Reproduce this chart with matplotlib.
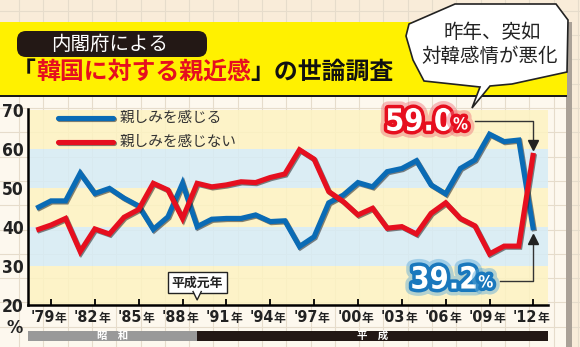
import numpy as np
import matplotlib
matplotlib.use('Agg')
from matplotlib import pyplot as plt
from matplotlib import patches
import matplotlib.patheffects as pe
import matplotlib.transforms as mtransforms

plt.rcParams['font.family'] = ['Noto Sans CJK JP', 'DejaVu Sans']
NARROW = dict(family='DejaVu Sans', fontstretch='condensed', fontweight='bold')

# --- data ---
years = list(range(1978, 2013))
kanjiru = [44.8, 46.7, 46.7, 53.8, 48.6, 49.9, 47.4, 45.4, 39.4, 42.6,
           51.2, 40.1, 42.0, 42.2, 42.2, 43.1, 41.4, 41.6, 35.0, 37.5,
           46.2, 48.2, 51.4, 50.3, 54.2, 55.0, 57.0, 50.8, 48.5, 55.0,
           57.2, 63.8, 61.9, 62.3, 39.2]
kanjinai = [39.2, 40.5, 42.2, 33.7, 39.5, 38.2, 42.5, 44.5, 51.2, 49.5,
            42.2, 51.2, 50.3, 50.8, 51.6, 51.4, 52.7, 53.6, 59.8, 57.4,
            49.1, 46.5, 43.1, 44.8, 39.7, 40.1, 38.2, 43.5, 46.2, 42.2,
            40.3, 33.1, 35.1, 35.1, 59.0]
series_names = ['親しみを感じる', '親しみを感じない']
tick_years = list(range(1979, 2013, 3))
tick_labels = ["'79", "'82", "'85", "'88", "'91", "'94", "'97", "'00", "'03", "'06", "'09", "'12"]
y_ticks = [20, 30, 40, 50, 60, 70]

BLUE = '#0a6bb5'
RED = '#e60f1f'

W, H = 580, 347
fig = plt.figure(figsize=(W / 100, H / 100), dpi=100)
fig.patch.set_facecolor('#f9ecd9')

# background: panel + graph paper (pixel coordinates)
bg = fig.add_axes([0, 0, 1, 1], zorder=0)
bg.set_xlim(0, W)
bg.set_ylim(H, 0)
bg.axis('off')
bg.add_patch(patches.Rectangle((0, 95), 567, 252, fc='#fdf8ee', ec='none'))
for gx in np.arange(19, W, 24.3):
    bg.axvline(gx, color='#e6dccb', lw=0.8, zorder=1)
for gy in np.arange(10.8, H, 24.3):
    bg.axhline(gy, color='#e6dccb', lw=0.8, zorder=1)
bg.add_patch(patches.Rectangle((566, 22), 6, 325, fc='#aaa197', ec='none', zorder=2))
bg.text(15, 328, '%', fontsize=13, ha='center', va='center', color='#222222', **NARROW)

# main chart
ax = fig.add_axes([28 / W, 1 - 305 / H, 520 / W, 196 / H], zorder=1)
ax.set_facecolor('none')
ax.set_xlim(1977.43, 2013.0)
ax.set_ylim(20, 70.26)
for lo in range(20, 70, 10):
    col = '#fdf3c2' if (lo // 10) % 2 == 0 else '#d6ecf6'
    ax.axhspan(lo, lo + 10, color=col, alpha=0.85, lw=0, zorder=0)

for sp in ['top', 'right']:
    ax.spines[sp].set_visible(False)
ax.spines['left'].set_linewidth(1.8)
ax.spines['bottom'].set_linewidth(1.8)
ax.set_xticks(tick_years)
ax.set_xticklabels([])
ax.tick_params(axis='x', direction='in', length=4, width=1.3)
ax.set_yticks(y_ticks)
ax.set_yticklabels([str(v) for v in y_ticks], fontsize=12.5, color='#222222', **NARROW)
ax.tick_params(axis='y', length=0, pad=3)

shadow = [pe.SimpleLineShadow(offset=(0.8, -0.8), shadow_color='#222222', alpha=0.55), pe.Normal()]
ax.plot(years, kanjiru, color=BLUE, lw=3.7, solid_joinstyle='miter',
        solid_capstyle='butt', path_effects=shadow, zorder=4)
ax.plot(years, kanjinai, color=RED, lw=3.7, solid_joinstyle='miter',
        solid_capstyle='butt', path_effects=shadow, zorder=5)

# legend
for i, (name, c) in enumerate(zip(series_names, [BLUE, RED])):
    yy = 0.954 - i * 0.121
    ax.plot([0.058, 0.163], [yy, yy], transform=ax.transAxes, color=c, lw=3.7,
            solid_capstyle='round', path_effects=shadow, clip_on=False, zorder=6)
    ax.text(0.177, yy, name, transform=ax.transAxes, fontsize=10.5,
            va='center', ha='left', color='#333333')

# x tick labels
trans = mtransforms.blended_transform_factory(ax.transData, ax.transAxes)
for yr, lab in zip(tick_years, tick_labels):
    ax.text(yr + 0.25, -0.066, lab, transform=trans, ha='right', va='center',
            fontsize=11.5, color='#222222', **NARROW)
    ax.text(yr + 0.25, -0.07, '年', transform=trans, ha='left', va='center',
            fontsize=8.5, fontweight='bold', color='#222222')

# era bars
x0, x1 = ax.get_xlim()
ax.add_patch(patches.Rectangle((x0, -0.184), 1989 - x0, 0.053, transform=trans,
                               fc='#999999', ec='none', clip_on=False))
ax.add_patch(patches.Rectangle((1989, -0.184), x1 - 1989, 0.053, transform=trans,
                               fc='#231815', ec='none', clip_on=False))
ax.text((x0 + 1989) / 2, -0.158, '昭　和', transform=trans, ha='center', va='center',
        fontsize=7.5, fontweight='bold', color='white')
ax.text((1989 + x1) / 2, -0.158, '平　成', transform=trans, ha='center', va='center',
        fontsize=7.5, fontweight='bold', color='white')

# 平成元年 callout
ax.text(1989, 25.8, '平成元年', ha='center', va='center', fontsize=9.3,
        fontweight='bold', color='#222222', zorder=7,
        bbox=dict(boxstyle='square,pad=0.28', fc='white', ec='#222222', lw=1))
ax.add_patch(patches.Polygon([(1988.72, 23.6), (1989.28, 23.6), (1989, 21.3)],
                             closed=True, fc='white', ec='none', zorder=8))
ax.plot([1988.72, 1989, 1989.28], [23.45, 21.3, 23.45], color='#222222', lw=1, zorder=8)

# end value labels with arrows
glow_r = [pe.Stroke(linewidth=10, foreground='#f07078', alpha=0.45),
          pe.Stroke(linewidth=5, foreground=RED), pe.Normal()]
glow_b = [pe.Stroke(linewidth=10, foreground='#5aa8d8', alpha=0.45),
          pe.Stroke(linewidth=5, foreground='#1a78bd'), pe.Normal()]
ax.text(2006.47, 66.9, f'{kanjinai[-1]:.1f}', ha='right', va='center', fontsize=22,
        color='white', path_effects=glow_r, zorder=9, **NARROW)
ax.text(2006.5, 66.3, '%', ha='left', va='center', fontsize=12,
        color='white', path_effects=glow_r, zorder=9, **NARROW)
ax.text(2008.2, 26.4, f'{kanjiru[-1]:.1f}', ha='right', va='center', fontsize=22,
        color='white', path_effects=glow_b, zorder=9, **NARROW)
ax.text(2008.23, 25.8, '%', ha='left', va='center', fontsize=12,
        color='white', path_effects=glow_b, zorder=9, **NARROW)

last = years[-1]
ax.plot([2008.0, last, last], [67.25, 67.25, kanjinai[-1] + 3.0], color='#333333', lw=1, zorder=6)
ax.plot([last], [kanjinai[-1] + 2.0], marker='v', ms=7, color='#222222', zorder=6)
ax.plot([2009.7, last, last], [26.2, 26.2, kanjiru[-1] - 3.3], color='#333333', lw=1, zorder=6)
ax.plot([last], [kanjiru[-1] - 2.2], marker='^', ms=7, color='#222222', zorder=6)

# header overlay
ov = fig.add_axes([0, 0, 1, 1], zorder=2)
ov.set_xlim(0, W)
ov.set_ylim(H, 0)
ov.axis('off')
ov.patch.set_visible(False)
ov.add_patch(patches.Rectangle((0, 22), 567, 73, fc='#fff100', ec='none'))
ov.add_patch(patches.Rectangle((0, 94.5), 567, 2.2, fc='#1a1a1a', ec='none'))
ov.add_patch(patches.FancyBboxPatch((17, 31), 190, 26, boxstyle='round,pad=0,rounding_size=9',
                                    fc='#231815', ec='none'))
ov.text(110, 44.5, '内閣府による', color='white', fontsize=14, ha='center', va='center')

t1 = ov.text(12, 72, '「', fontsize=17.2, fontweight='bold', color='#111111',
             ha='left', va='center')
t2 = ov.annotate('韓国に対する親近感', xy=(1, 0), xycoords=t1, va='bottom', ha='left',
                 fontsize=17.2, fontweight='bold', color=RED)
ov.annotate('」の世論調査', xy=(1, 0), xycoords=t2, va='bottom', ha='left',
            fontsize=17.2, fontweight='bold', color='#111111')

bubble = [(409, 24), (455, 4), (556, 4), (568, 20), (567, 72), (512, 84), (490, 86),
          (472, 108), (480, 87), (424, 81), (413, 60), (406, 36)]
ov.add_patch(patches.Polygon(bubble, closed=True, fc='white', ec='#222222', lw=1.2, zorder=5))
ov.text(492, 32, '昨年、突如', fontsize=14, ha='center', va='center', color='#222222', zorder=6)
ov.text(490, 56, '対韓感情が悪化', fontsize=14, ha='center', va='center', color='#222222', zorder=6)

fig.savefig('out.png', dpi=100)
